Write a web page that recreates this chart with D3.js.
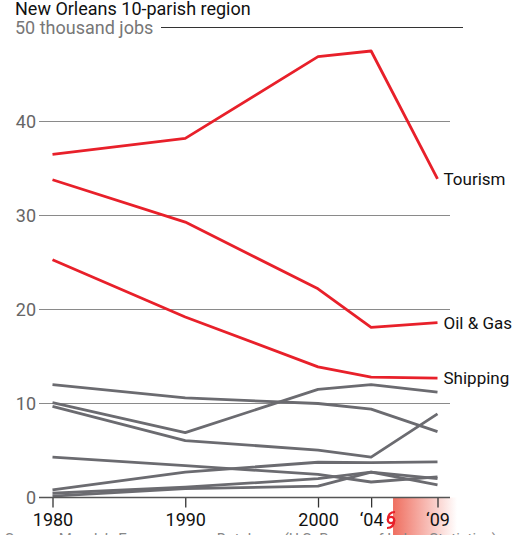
<!DOCTYPE html>
<html>
<head>
<meta charset="utf-8">
<script src="https://cdn.jsdelivr.net/npm/d3@7.9.0/dist/d3.min.js"></script>
<style>
  body { margin: 0; background: #fff; }
  svg { display: block; font-family: Roboto, "Open Sans", sans-serif; }
</style>
</head>
<body>
<svg id="chart" width="529" height="535"></svg>
<script>
// data (thousand jobs)
const years = [1980, 1990, 2000, 2004, 2009];
const xTickLabels = ["1980", "1990", "2000", "\u201804", "\u201809"];
const yTicks = [0, 10, 20, 30, 40, 50];

const tourism = [36.5, 38.2, 46.9, 47.5, 33.9];
const oilGas = [33.8, 29.3, 22.2, 18.1, 18.6];
const shipping = [25.3, 19.2, 13.9, 12.8, 12.7];

// other sectors, drawn in gray
const otherA = [12.0, 10.6, 10.0, 9.4, 7.0];
const otherB = [10.1, 6.9, 11.5, 12.0, 11.2];
const otherC = [9.7, 6.05, 5.05, 4.3, 8.9];
const otherD = [4.3, 3.4, 2.45, 1.65, 2.2];
const otherE = [0.8, 2.7, 3.75, 3.7, 3.8];
const otherF = [0.45, 1.1, 2.0, 2.7, 2.0];
const otherG = [0.15, 0.95, 1.2, 2.7, 1.35];

const highlighted = [
  { name: "Tourism", values: tourism },
  { name: "Oil & Gas", values: oilGas },
  { name: "Shipping", values: shipping }
];
const others = [otherA, otherB, otherC, otherD, otherE, otherF, otherG];

const katrinaYear = 2005.65;

const svg = d3.select("#chart");

const x = d3.scaleLinear().domain([1980, 2009]).range([52.5, 437.5]);
const y = d3.scaleLinear().domain([0, 50]).range([497.5, 27.5]);

const line = d3.line()
  .x((d, i) => x(years[i]))
  .y((d) => y(d));

// katrina band under the axis
const defs = svg.append("defs");
const grad = defs.append("linearGradient").attr("id", "katrina");
grad.append("stop").attr("offset", "0%").attr("stop-color", "#ef6f60");
grad.append("stop").attr("offset", "100%").attr("stop-color", "#ffffff");

svg.append("rect")
  .attr("x", x(katrinaYear))
  .attr("y", y(0))
  .attr("width", 64)
  .attr("height", 40)
  .attr("fill", "url(#katrina)");

// gridlines
svg.append("g")
  .selectAll("line")
  .data(yTicks.filter((d) => d > 0 && d < 50))
  .join("line")
  .attr("x1", 39)
  .attr("x2", 450)
  .attr("y1", (d) => y(d))
  .attr("y2", (d) => y(d))
  .attr("stroke", "#8a8a8a")
  .attr("stroke-width", 1.2);

// top line next to the unit label
svg.append("line")
  .attr("x1", 161).attr("x2", 463)
  .attr("y1", y(50)).attr("y2", y(50))
  .attr("stroke", "#333").attr("stroke-width", 1.2);

// y labels
svg.append("g")
  .selectAll("text")
  .data(yTicks.filter((d) => d < 50))
  .join("text")
  .attr("x", 36)
  .attr("y", (d) => y(d))
  .attr("dy", "0.35em")
  .attr("text-anchor", "end")
  .attr("fill", "#666")
  .attr("font-size", 18)
  .text((d) => d);

svg.append("text")
  .attr("x", 15).attr("y", y(50)).attr("dy", "0.35em")
  .attr("fill", "#777").attr("font-size", 18)
  .text("50 thousand jobs");

svg.append("text")
  .attr("x", 15).attr("y", 15)
  .attr("fill", "#111").attr("font-size", 18)
  .text("New Orleans 10-parish region");

// gray series
svg.append("g")
  .selectAll("path")
  .data(others)
  .join("path")
  .attr("d", line)
  .attr("fill", "none")
  .attr("stroke", "#6b6b70")
  .attr("stroke-width", 2.8)
  .attr("stroke-linejoin", "round");

// red series
svg.append("g")
  .selectAll("path")
  .data(highlighted)
  .join("path")
  .attr("d", (d) => line(d.values))
  .attr("fill", "none")
  .attr("stroke", "#e8202a")
  .attr("stroke-width", 2.8)
  .attr("stroke-linejoin", "round");

svg.append("g")
  .selectAll("text")
  .data(highlighted)
  .join("text")
  .attr("x", x(2009) + 6)
  .attr("y", (d) => y(d.values[d.values.length - 1]))
  .attr("dy", "0.35em")
  .attr("fill", "#111")
  .attr("font-size", 17)
  .text((d) => d.name);

// x axis
const xAxis = d3.axisBottom(x)
  .tickValues(years)
  .tickFormat((d, i) => xTickLabels[i])
  .tickSize(10)
  .tickPadding(6);

const gx = svg.append("g")
  .attr("transform", `translate(0,${y(0)})`)
  .call(xAxis);
gx.select(".domain").remove();
gx.append("line")
  .attr("x1", 39).attr("x2", 450)
  .attr("stroke", "#555").attr("stroke-width", 1.5);
gx.selectAll(".tick line").attr("stroke", "#333").attr("stroke-width", 1.3);
gx.selectAll(".tick text")
  .attr("fill", "#111")
  .attr("font-size", 18)
  .attr("font-family", "Roboto, sans-serif");

// hurricane mark
const hx = x(katrinaYear) - 2;
const hy = 520;
const hurricane = svg.append("g")
  .attr("transform", `translate(${hx},${hy})`)
  .attr("fill", "none")
  .attr("stroke", "#e8202a")
  .attr("stroke-width", 2.2);
hurricane.append("circle").attr("r", 3.2);
hurricane.append("path").attr("d", "M-3.2,0 C-3.2,-6 0,-8 4,-8");
hurricane.append("path").attr("d", "M3.2,0 C3.2,6 0,8 -4,8");

// source line, mostly cut off at the bottom as in the original
svg.append("text")
  .attr("x", 5).attr("y", 544)
  .attr("fill", "#888").attr("font-size", 15)
  .text("Source: Moody\u2019s Economy.com Database (U.S. Bureau of Labor Statistics)");
</script>
</body>
</html>
